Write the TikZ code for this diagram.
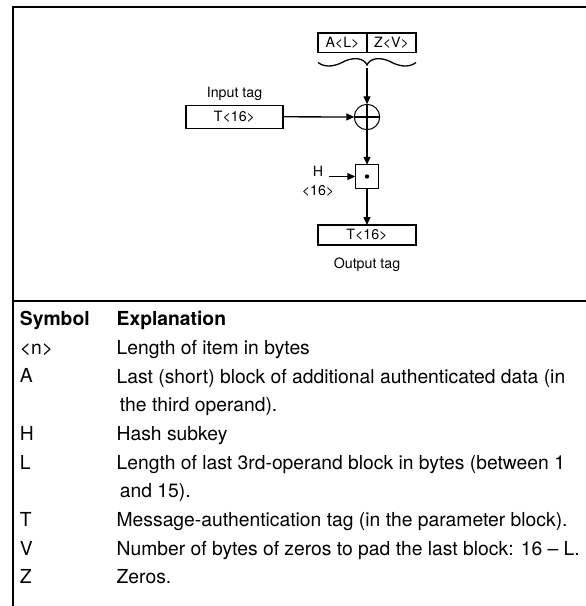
\documentclass[tikz,border=0pt]{standalone}
\usepackage{fontspec}
\setmainfont{TeX Gyre Heros}
\usetikzlibrary{arrows.meta, positioning}

\begin{document}
\begin{tikzpicture}[x=1pt, y=-1pt, >={Triangle[length=8pt,width=7pt]}, line width=1.3pt,
    box/.style={draw, inner sep=0pt, outer sep=0pt, font=\fontsize{14.2}{16}\selectfont},
    lbl/.style={inner sep=0pt, anchor=base, font=\fontsize{14.2}{16}\selectfont},
    legend/.style={inner sep=0pt, anchor=base west, align=left, font=\fontsize{19.3}{28.5}\selectfont},
    legendhead/.style={legend, font=\fontsize{19.3}{28.5}\selectfont\bfseries}]
    \useasboundingbox (0,0) rectangle (586,606);

    % 1. Khung
    \draw[line width=2pt] (586,6.7) -- (12.7,6.7) -- (12.7,606);
    \draw[line width=2pt] (12.7,301) -- (586,301);

    % 2. Khối dữ liệu và dấu ngoặc
    \node[box, minimum width=49pt, minimum height=19.7pt] (aL) at (342.5,42.8) {A<L>};
    \node[box, minimum width=49pt, minimum height=19.7pt, right=0pt of aL] (zV) {Z<V>};
    \coordinate (brtip) at (367,65);
    \coordinate (brbot) at (367,68);
    \draw (318,62.5) .. controls (326,68.5) and (336,66) .. (345,61)
          .. controls (354,57) and (364,58) .. (brtip)
          .. controls (370,58) and (380,57) .. (389,61)
          .. controls (398,66) and (408,68.5) .. (416,62.5);

    % 3. Phép XOR và phép nhân
    \node[circle, draw, line width=1pt, minimum size=25.4pt, inner sep=0pt, outer sep=0pt] (xor) at (367,117) {};
    \draw (xor.north) -- (xor.south) (xor.west) -- (xor.east);
    \node[box, minimum size=23.5pt] (mul) at (367,176.5) {};
    \fill (mul.center) circle (2.2pt);

    % 4. Thẻ vào, khóa H, thẻ ra
    \node[lbl] (intag) at (234.5,97) {Input tag};
    \node[box, minimum width=97pt, minimum height=23pt] (tin) at (234.5,116.7) {T<16>};
    \node[lbl] (hkey) at (318,176.7) {H};
    \node[lbl] (hlen) at (318,195.2) {<16>};
    \node[box, minimum width=98pt, minimum height=20pt] (tout) at (367,235) {T<16>};
    \node[lbl] (outtag) at (367,268.5) {Output tag};

    % 5. Mũi tên
    \draw[->] (brbot) -- (xor);
    \draw[->] (tin) -- (xor);
    \draw[->] (xor) -- (mul);
    \draw[->] ([xshift=5pt]hkey.east |- mul.west) -- (mul.west);
    \draw[->] (mul) -- (tout);

    % 6. Chú thích (\e = dòng cuối của phần giải thích)
    \node[legendhead] (symhead) at (19.3,325.5) {Symbol};
    \node[legendhead] (exphead) at (116,325.5) {Explanation};
    \foreach \r/\e/\s/\t in {0/0/{<n>}/{Length of item in bytes},
            1/2/A/{Last (short) block of additional authenticated data (in\\\hspace*{3.3pt}the third operand).},
            3/3/H/{Hash subkey},
            4/5/L/{Length of last 3rd-operand block in bytes (between 1\\\hspace*{3.3pt}and 15).},
            6/6/T/{Message-authentication tag (in the parameter block).},
            7/7/V/{Number of bytes of zeros to pad the last block: 16 \textendash{} L.},
            8/8/Z/{Zeros.}} {
        \node[legend] (sym\r) at (19.3,{354.2+28.7*\r}) {\s};
        \node[legend] (exp\r) at (116,{354.2+28.7*\e}) {\t};
    }
\end{tikzpicture}
\end{document}
